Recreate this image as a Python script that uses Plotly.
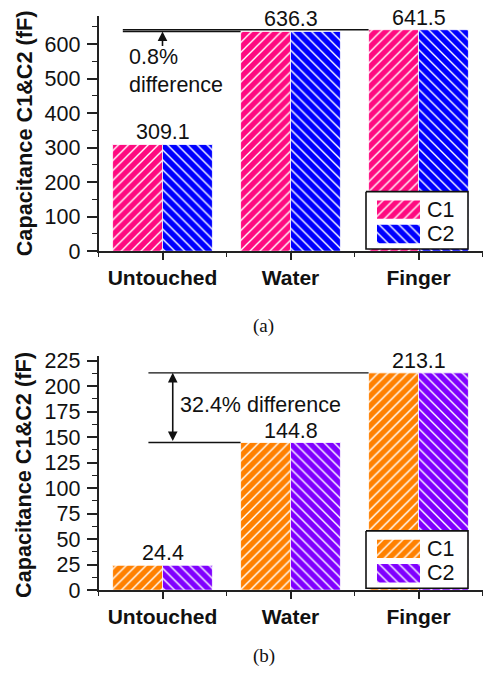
import plotly.graph_objects as go

# ---- data -------------------------------------------------------------
categories = ["Untouched", "Water", "Finger"]
c1_a = [309.1, 636.3, 641.5]
c2_a = [309.1, 636.3, 641.5]
c1_b = [24.4, 144.8, 213.1]
c2_b = [24.4, 144.8, 213.1]
labels_a = ["309.1", "636.3", "641.5"]
labels_b = ["24.4", "144.8", "213.1"]
series_names = ["C1", "C2"]

# ---- styling ----------------------------------------------------------
W, H = 484, 679
FONT = "Liberation Sans, Arial, sans-serif"
SERIF = "Liberation Serif, Times New Roman, serif"
INK = "#111111"
AXIS = "#222222"
COLORS_A = ["#FF0A80", "#0000FF"]
COLORS_B = ["#FF8000", "#8000FF"]
SHAPES = ["/", "\\"]
BAR_W = 0.39          # width of one bar in category units
X_RANGE = [-0.5, 2.5]
X_DOMAIN = [98.5 / W, 482.5 / W]
TXT = 21.5            # regular text size


def py(px):
    """pixel row (from top) -> paper y"""
    return 1 - px / H


def px_(px):
    return px / W


fig = go.Figure()


def add_bars(vals, colors, xa, ya):
    for k, (v, col) in enumerate(zip(vals, colors)):
        fig.add_trace(go.Bar(
            x=list(range(len(categories))), y=v, name=series_names[k],
            width=BAR_W, offset=-BAR_W + k * BAR_W,
            marker=dict(color=col, line=dict(color="white", width=0.8),
                        pattern=dict(shape=SHAPES[k], fgcolor="white", bgcolor=col,
                                     fillmode="replace", size=7, solidity=0.2)),
            xaxis=xa, yaxis=ya, showlegend=False, hoverinfo="skip"))


add_bars([c1_a, c2_a], COLORS_A, "x", "y")
add_bars([c1_b, c2_b], COLORS_B, "x2", "y2")

# ---- legend boxes drawn as small subplots ----------------------------
BOX_W, BOX_H = 102, 59
SW_X0, SW_X1 = 11, 54
SW_ROWS = [(9, 28), (34, 53)]
TEXT_X = 59


def add_legend(xa, ya, colors):
    fig.add_trace(go.Scatter(
        x=[0, BOX_W, BOX_W, 0, 0], y=[0, 0, BOX_H, BOX_H, 0], mode="lines",
        fill="toself", fillcolor="white", line=dict(color="#111111", width=1.6),
        xaxis=xa, yaxis=ya, showlegend=False, hoverinfo="skip"))
    for k, col in enumerate(colors):
        y0, y1 = SW_ROWS[k]
        fig.add_trace(go.Scatter(
            x=[SW_X0, SW_X1, SW_X1, SW_X0, SW_X0], y=[y0, y0, y1, y1, y0],
            mode="lines", fill="toself", fillcolor=col, line=dict(width=0),
            fillpattern=dict(shape=SHAPES[k], fgcolor="white", bgcolor=col,
                             fillmode="replace", size=7, solidity=0.2),
            xaxis=xa, yaxis=ya, showlegend=False, hoverinfo="skip"))
        fig.add_annotation(x=TEXT_X, y=(y0 + y1) / 2, xref=xa, yref=ya,
                           text=series_names[k], showarrow=False, xanchor="left",
                           yanchor="middle", font=dict(family=FONT, size=TXT, color=INK))


add_legend("x3", "y3", COLORS_A)
add_legend("x4", "y4", COLORS_B)

# ---- axes -------------------------------------------------------------
common_x = dict(range=X_RANGE, domain=X_DOMAIN, showline=True, linecolor=AXIS, linewidth=1.6,
                tickmode="array", tickvals=[0, 1, 2], ticktext=categories,
                ticks="outside", ticklen=7, tickwidth=1.6, tickcolor=AXIS,
                minor=dict(tickmode="linear", tick0=-0.5, dtick=0.5, ticks="outside",
                           ticklen=4, tickwidth=1.4, tickcolor=AXIS),
                tickfont=dict(family=FONT, size=21, color=INK, weight="bold"),
                showgrid=False, zeroline=False, fixedrange=True)
common_y = dict(showline=True, linecolor=AXIS, linewidth=1.6, ticks="outside",
                ticklen=10, tickwidth=1.6, tickcolor=AXIS,
                tickfont=dict(family=FONT, size=TXT, color=INK),
                ticklabelstandoff=2, showgrid=False, zeroline=False, fixedrange=True)

fig.update_layout(
    xaxis=dict(common_x, anchor="y"),
    yaxis=dict(common_y, anchor="x", range=[0, 680], dtick=100, tick0=0,
               domain=[py(252.3), py(10.7)],
               minor=dict(dtick=50, ticks="outside", ticklen=5, tickwidth=1.4, tickcolor=AXIS)),
    xaxis2=dict(common_x, anchor="y2"),
    yaxis2=dict(common_y, anchor="x2", range=[0, 230], dtick=25, tick0=0,
                domain=[py(601), py(359.7)],
                minor=dict(dtick=12.5, ticks="outside", ticklen=5, tickwidth=1.4, tickcolor=AXIS)),
)

leg_axes = dict(visible=False, fixedrange=True, showgrid=False, zeroline=False)
for (xa, ya, top) in [("xaxis3", "yaxis3", 191), ("xaxis4", "yaxis4", 540)]:
    fig.layout[xa] = dict(leg_axes, range=[-2, BOX_W + 2], domain=[px_(364), px_(470)],
                          anchor=ya.replace("axis", ""))
    fig.layout[ya] = dict(leg_axes, range=[BOX_H + 2, -2],
                          domain=[py(top + BOX_H + 2), py(top - 2)],
                          anchor=xa.replace("axis", ""))

# ---- value labels -----------------------------------------------------
for xr, yr, vals, labs in [("x", "y", c1_a, labels_a), ("x2", "y2", c1_b, labels_b)]:
    for i, (v, t) in enumerate(zip(vals, labs)):
        fig.add_annotation(x=i, y=v, xref=xr, yref=yr, text=t, showarrow=False,
                           yanchor="bottom", yshift=-2,
                           font=dict(family=FONT, size=TXT, color=INK))

# ---- difference markers -----------------------------------------------
line_style = dict(color="#111111", width=1.4)
# (a) reference lines at the Water and Finger bar tops
fig.add_shape(type="line", xref="x", yref="y", x0=-0.31, x1=1 - BAR_W,
              y0=c1_a[1], y1=c1_a[1], line=line_style)
fig.add_shape(type="line", xref="x", yref="y", x0=-0.31, x1=2 - BAR_W,
              y0=c1_a[2], y1=c1_a[2], line=line_style)
fig.add_annotation(x=0, y=c1_a[1], ax=0, ay=590, xref="x", yref="y", axref="x", ayref="y",
                   showarrow=True, arrowhead=2, arrowsize=1.2, arrowwidth=1.6,
                   arrowcolor="#111111", text="", standoff=0)
fig.add_annotation(x=-0.28, y=521, xref="x", yref="y", text="0.8%<br>difference",
                   showarrow=False, xanchor="left", yanchor="middle", align="left",
                   font=dict(family=FONT, size=TXT, color=INK))

# (b) reference lines at the Water and Finger bar tops
fig.add_shape(type="line", xref="x2", yref="y2", x0=-0.11, x1=1 - BAR_W,
              y0=c1_b[1], y1=c1_b[1], line=line_style)
fig.add_shape(type="line", xref="x2", yref="y2", x0=-0.11, x1=2 - BAR_W,
              y0=c1_b[2], y1=c1_b[2], line=line_style)
fig.add_annotation(x=0.08, y=c1_b[2], ax=0.08, ay=c1_b[1], xref="x2", yref="y2",
                   axref="x2", ayref="y2", showarrow=True, arrowhead=2, startarrowhead=2,
                   arrowside="end+start", arrowsize=1.2, arrowwidth=1.6,
                   arrowcolor="#111111", text="", standoff=0, startstandoff=0)
fig.add_annotation(x=0.12, y=181.5, xref="x2", yref="y2", text="32.4% difference",
                   showarrow=False, xanchor="left", yanchor="middle",
                   font=dict(family=FONT, size=TXT, color=INK))

# ---- y-axis titles and panel captions ---------------------------------
for yc in [131, 482.5]:
    fig.add_annotation(x=px_(24), y=py(yc), xref="paper", yref="paper",
                       text="Capacitance C1&C2 (fF)", textangle=-90, showarrow=False,
                       xanchor="center", yanchor="middle",
                       font=dict(family=FONT, size=21.7, color=INK, weight="bold"))
for cap, yc in [("(a)", 329), ("(b)", 669)]:
    fig.add_annotation(x=px_(263.5), y=py(yc), xref="paper", yref="paper", text=cap,
                       showarrow=False, xanchor="center", yanchor="middle",
                       font=dict(family=SERIF, size=19, color=INK))

fig.update_layout(width=W, height=H, margin=dict(l=0, r=0, t=0, b=0),
                  paper_bgcolor="white", plot_bgcolor="rgba(0,0,0,0)",
                  barmode="overlay", showlegend=False)

fig.write_html("out.html")
